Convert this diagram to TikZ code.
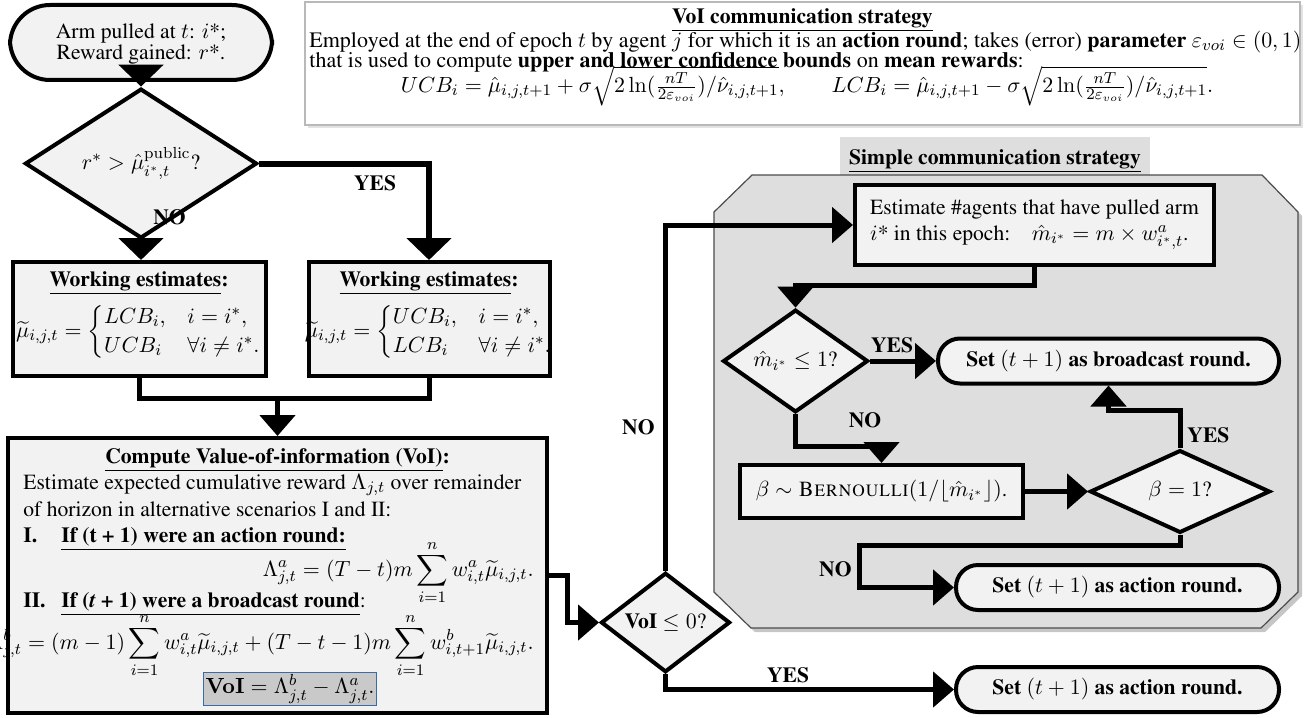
\documentclass[tikz,border=0pt]{standalone}
\usepackage[T1]{fontenc}
\usepackage{amsmath}
\usepackage{times}
\usetikzlibrary{shapes.geometric,arrows.meta,calc}
\definecolor{boxfill}{HTML}{F2F2F2}
\definecolor{regfill}{HTML}{DEDEDE}
\definecolor{resfill}{HTML}{C9C9C9}
\definecolor{resblue}{HTML}{3B6AA8}
\begin{document}
\begin{tikzpicture}[x=0.5pt,y=-0.5pt,
  font=\fontsize{10.8}{12}\selectfont,
  flowbox/.style={draw=black, line width=2pt, fill=boxfill, inner sep=3pt},
  term/.style={flowbox, rounded corners=11pt},
  decision/.style={draw=black, line width=2pt, fill=boxfill, shape=diamond, inner sep=0pt},
  conn/.style={line width=2.5pt, -{Triangle[width=17.5pt,length=10.5pt]}},
  connbig/.style={line width=3pt, -{Triangle[width=22pt,length=11pt]}},
  plainline/.style={line width=2.5pt},
  lbl/.style={font=\fontsize{10.8}{12}\selectfont\bfseries, inner sep=0pt},
  txt/.style={inner sep=0pt},
]
\useasboundingbox (0,0) rectangle (1304,717);

% ---------- top box: VoI communication strategy
\fill[gray!22] (308,5) rectangle (1303,128);
\node[draw=gray!55, fill=white, line width=0.8pt, minimum width=497.5pt, minimum height=61.5pt, inner sep=0pt] (topbox) at (802.5,63.5) {};
\node[txt] (toptitle) at (802.5,20) {\textbf{\underline{VoI communication strategy}}};
\node[txt, anchor=mid west, font=\fontsize{11}{12}\selectfont] (topl1) at (309,43) {Employed at the end of epoch $t$ by agent $j$ for which it is an \textbf{action round}; takes (error) \textbf{parameter} $\varepsilon_{voi}\in(0,1)$};
\node[txt, anchor=mid west, font=\fontsize{11}{12}\selectfont] (topl2) at (309,63) {that is used to compute \textbf{upper and lower confidence bounds} on \textbf{mean rewards}:};
\node[txt] (topeq) at (807,86) {$UCB_i=\hat{\mu}_{i,j,t+1}+\sigma\sqrt{2\ln(\tfrac{nT}{2\varepsilon_{voi}})/\hat{\nu}_{i,j,t+1}},\qquad LCB_i=\hat{\mu}_{i,j,t+1}-\sigma\sqrt{2\ln(\tfrac{nT}{2\varepsilon_{voi}})/\hat{\nu}_{i,j,t+1}}.$};

% ---------- simple communication strategy region
\fill[gray!45] (718,216) -- (756,179) -- (1266,179) -- (1302,216) -- (1302,596) -- (1265,632) -- (755,632) -- (718,596) -- cycle;
\fill[regfill] (840,137) rectangle (1150,175);
\draw[draw=black!70, fill=regfill, line width=0.6pt] (714,212) -- (752,175) -- (1262,175) -- (1298,212) -- (1298,592) -- (1261,628) -- (751,628) -- (714,592) -- cycle;
\node[txt] (simpletitle) at (995,161) {\textbf{\underline{Simple communication strategy}}};

% ---------- left column
\node[flowbox, rounded corners=20pt, minimum width=131pt, minimum height=37.5pt] (start) at (141,42.5) {};
\node[txt, align=center, font=\fontsize{10.8}{10.5}\selectfont] (startt) at (141,44) {Arm pulled at $t$: $i$*;\\Reward gained: $r$*.};
\node[decision, minimum width=116pt, minimum height=46.5pt] (d1) at (141,163.5) {$r^*>\hat{\mu}^{\mathrm{public}}_{i^*,t}$?};

\node[flowbox, minimum width=126.5pt, minimum height=57pt] (weL) at (139,319) {};
\node[txt] (weLt) at (139,283) {\textbf{\underline{Working estimates}:}};
\node[txt] (weLf) at (139,332) {$\widetilde{\mu}_{i,j,t}=\begin{cases}LCB_i, & i=i^*,\\ UCB_i & \forall i\neq i^*.\end{cases}$};
\node[flowbox, minimum width=120.5pt, minimum height=57pt] (weR) at (429,319) {};
\node[txt] (weRt) at (429,283) {\textbf{\underline{Working estimates}:}};
\node[txt] (weRf) at (429,332) {$\widetilde{\mu}_{i,j,t}=\begin{cases}UCB_i, & i=i^*,\\ LCB_i & \forall i\neq i^*.\end{cases}$};
\coordinate (j) at (277.5,398);

\node[flowbox, minimum width=269.5pt, minimum height=137.5pt] (voi) at (277.5,575.5) {};
\node[txt] (voititle) at (277.5,460) {\textbf{\underline{Compute Value-of-information (VoI)}:}};
\node[txt, anchor=mid west] (voil1) at (23,485) {Estimate expected cumulative reward $\Lambda_{j,t}$ over remainder};
\node[txt, anchor=mid west] (voil2) at (23,512) {of horizon in alternative scenarios I and II:};
\node[txt, anchor=mid west] (voiIa) at (23,538) {\textbf{I.}};
\node[txt, anchor=mid west] (voiIb) at (61,538) {\textbf{\underline{If (t + 1) were an action round:}}};
\node[txt, anchor=mid east] (eqa) at (534,572) {$\displaystyle\Lambda^a_{j,t}=(T-t)m\sum_{i=1}^{n}w^a_{i,t}\widetilde{\mu}_{i,j,t}.$};
\node[txt, anchor=mid west] (voiIIa) at (23,603) {\textbf{II.}};
\node[txt, anchor=mid west] (voiIIb) at (61,603) {\textbf{\underline{If (\textit{t} + 1) were a broadcast round}}:};
\node[txt, anchor=mid east] (eqb) at (534,645) {$\displaystyle\Lambda^b_{j,t}=(m-1)\sum_{i=1}^{n}w^a_{i,t}\widetilde{\mu}_{i,j,t}+(T-t-1)m\sum_{i=1}^{n}w^b_{i,t+1}\widetilde{\mu}_{i,j,t}.$};
\node[fill=resfill, draw=resblue, line width=0.6pt, minimum width=79pt, minimum height=16.5pt, inner sep=1pt] (voires) at (290,689) {$\mathbf{VoI}=\Lambda^b_{j,t}-\Lambda^a_{j,t}.$};

% ---------- right part
\node[decision, minimum width=64.5pt, minimum height=42.5pt] (d2) at (665.5,622.5) {\textbf{VoI} $\le 0$?};
\node[flowbox, minimum width=179.5pt, minimum height=40pt, align=left] (est) at (1034.5,225) {Estimate \#agents that have pulled arm\\[1pt]$i$* in this epoch:\quad $\hat{m}_{i^*}=m\times w^a_{i^*,t}$.};
\node[decision, minimum width=72.5pt, minimum height=42.5pt] (d3) at (795.5,361) {$\hat{m}_{i^*}\le 1$?};
\node[term, minimum width=170.5pt, minimum height=22.5pt] (bc) at (1108.5,361) {\textbf{Set $(t+1)$ as broadcast round.}};
\node[flowbox, minimum width=141.5pt, minimum height=26.5pt] (bern) at (881.5,491.5) {$\beta\sim{}$\textsc{Bernoulli}$(1/\lfloor\hat{m}_{i^*}\rfloor)$.};
\node[decision, minimum width=90pt, minimum height=33.5pt] (d4) at (1180,491.5) {$\beta=1$?};
\node[term, minimum width=161.5pt, minimum height=22.5pt] (act1) at (1117.5,587.5) {\textbf{Set $(t+1)$ as action round.}};
\node[term, minimum width=161.5pt, minimum height=22.5pt] (act2) at (1117.5,689.5) {\textbf{Set $(t+1)$ as action round.}};
\coordinate (c2) at (859,545);

% ---------- connectors
\draw[connbig] (start.south) -- (d1.north);
\draw[connbig] (d1.south) -- (weL.north -| d1.south);
\draw[connbig] (d1.east) -| (weR.north);
\draw[plainline] (weL.south) |- (j) -| (weR.south);
\draw[conn] (j) -- (voi.north);
\draw[conn] (voi.east) -- ++(18,0) |- (d2.west);
\draw[conn] (d2.north) |- (est.west);
\draw[conn] (d2.south) |- (act2.west);
\draw[conn] (est.south) -- ++(0,18) -| (d3.north);
\draw[conn] (d3.east) -- (bc.west);
\draw[conn] (d3.south) -- ++(0,32) -| (bern.north);
\draw[conn] (bern.east) -- (d4.west);
\draw[conn] (d4.north) -- ++(0,-38) -| (bc.south);
\draw[conn] (d4.south) |- (c2) |- (act1.west);

% ---------- labels
\node[lbl] (yes1) at (375,183) {YES};
\node[lbl, anchor=mid west] (no1) at (153,220) {NO};
\node[lbl, anchor=mid east] (no2) at (655,430) {NO};
\node[lbl] (yes2) at (788,675) {YES};
\node[lbl] (yes3) at (892,345) {YES};
\node[lbl] (no3) at (865,420) {NO};
\node[lbl, anchor=mid west] (yes4) at (1187,438) {YES};
\node[lbl, anchor=mid east] (no4) at (852,572) {NO};
\end{tikzpicture}
\end{document}
